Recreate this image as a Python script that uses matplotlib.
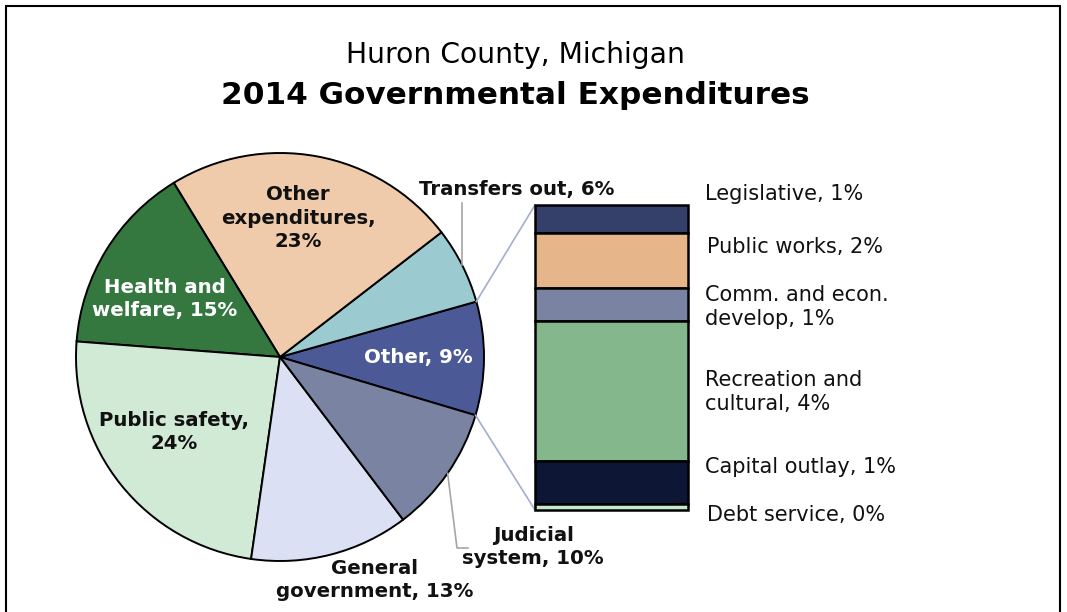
import numpy as np
import matplotlib.pyplot as plt
from matplotlib.patches import Rectangle

plt.rcParams['font.family'] = ['DejaVu Sans']

# ===== Data (percent of total) =====
pie_labels = ['Other, 9%', 'Transfers out, 6%', 'Other\nexpenditures,\n23%',
              'Health and\nwelfare, 15%', 'Public safety,\n24%',
              'General\ngovernment, 13%', 'Judicial\nsystem, 10%']
pie_vals = [9.01, 6.1, 23.3, 15.1, 24.0, 12.6, 10.1]
pie_colors = ['#4B5A96', '#9BCBD1', '#F0CBAB', '#347840', '#D0EAD6',
              '#DBE0F4', '#7A83A1']

# bar-of-pie, top to bottom
bar_labels = ['Legislative, 1%', 'Public works, 2%', 'Comm. and econ.\ndevelop, 1%',
              'Recreation and\ncultural, 4%', 'Capital outlay, 1%', 'Debt service, 0%']
bar_vals = [0.82, 1.64, 0.96, 4.14, 1.28, 0.17]
bar_colors = ['#343F6A', '#E6B58A', '#7A83A1', '#84B78C', '#0D1735', '#C8E6CD']

W, H = 1067, 612
fig = plt.figure(figsize=(W/100, H/100), dpi=100)
ax = fig.add_axes([0, 0, 1, 1])

# pie in pixel-like coords (y up)
cx, cy, R = 280, 612-357, 204
wedges, _ = ax.pie(pie_vals, colors=pie_colors, startangle=-16.6, counterclock=True,
                   center=(cx, cy), radius=R,
                   wedgeprops=dict(edgecolor='black', linewidth=1.4))
ax.set_xlim(0, W); ax.set_ylim(0, H); ax.set_aspect('equal')
ax.axis('off')

# frame
ax.add_patch(Rectangle((6, -10), 1054, 612-6+10, fill=False, edgecolor='black', lw=1.5))

# titles
ax.text(515, 612-55, 'Huron County, Michigan', ha='center', va='center', fontsize=20.3)
ax.text(515, 612-96, '2014 Governmental Expenditures', ha='center', va='center',
        fontsize=22.4, fontweight='bold')

# pie labels
kw = dict(ha='center', va='center', fontsize=14.2, fontweight='bold', linespacing=1.3)
ax.text(298, 612-218, pie_labels[2], color='#111111', **kw)
ax.text(165, 612-299, pie_labels[3], color='white', **kw)
ax.text(174, 612-432, pie_labels[4], color='#111111', **kw)
ax.text(418, 612-358, pie_labels[0], color='white', **kw)
ax.text(375, 612-580, pie_labels[5], color='#111111', **kw)
ax.text(533, 612-547, pie_labels[6], color='#111111', **kw)
ax.text(517, 612-190, pie_labels[1], color='#111111', **kw)

def edge_pt(w):
    a = np.deg2rad((w.theta1 + w.theta2) / 2)
    return cx + R*np.cos(a), cy + R*np.sin(a)

# leader lines
tx, ty = edge_pt(wedges[1])
ax.plot([tx, tx], [ty, 612-203], color='#A6A6A6', lw=1.2)
jx, jy = edge_pt(wedges[6])
ax.plot([jx, 457, 468], [jy, 612-548, 612-548], color='#A6A6A6', lw=1.2)

# stacked bar
bx0, bx1, by_top, by_bot = 535, 688, 205, 510
bax = fig.add_axes([bx0/W, (H-by_bot)/H, (bx1-bx0)/W, (by_bot-by_top)/H])
bottoms = np.cumsum([0] + bar_vals[::-1])[:-1][::-1]
bars = bax.bar(0, bar_vals, bottom=bottoms, width=1, color=bar_colors,
               edgecolor='black', linewidth=1.8)
for b in bars:
    b.set_clip_on(False)
bax.set_xlim(-0.5, 0.5); bax.set_ylim(0, sum(bar_vals))
bax.axis('off')

# connector lines from "Other" slice to bar
o = wedges[0]
for ang, by in [(o.theta2, by_top), (o.theta1, by_bot)]:
    a = np.deg2rad(ang)
    ax.plot([cx + R*np.cos(a), bx0], [cy + R*np.sin(a), H - by], color='#A3ADD0', lw=1.2)

# bar labels
bl_y = [194, 247, 307, 392, 467, 515]
bl_x = [705, 707, 705, 705, 705, 707]
for lab, x, y in zip(bar_labels, bl_x, bl_y):
    ax.text(x, H - y, lab, ha='left', va='center', fontsize=15, linespacing=1.25,
            color='#111111')

plt.savefig('out.png', dpi=100)
